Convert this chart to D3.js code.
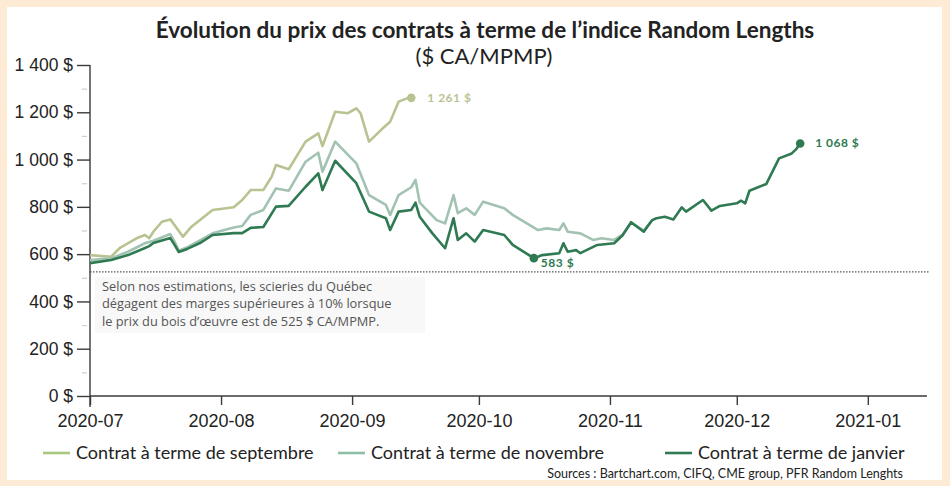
<!DOCTYPE html>
<html>
<head>
<meta charset="utf-8">
<script src="https://cdn.jsdelivr.net/npm/d3@7"></script>
<style>
  body { margin: 0; background: #fdebd6; }
  svg { display: block; font-family: Lato, 'Open Sans', sans-serif; }
  .axis text { font-size: 17.5px; fill: #222; }
  .axis.x text { font-size: 18px; }
  .axis path, .axis line { stroke: #3a3a3a; stroke-width: 1.4; }
  .minor line { stroke: #cfcfcf; stroke-width: 1.2; }
  .serie { fill: none; stroke-width: 2.6; stroke-linejoin: round; }
  .legend text { font-size: 18px; fill: #222; }
</style>
</head>
<body>
<div id="chart"></div>
<script>
var chartTitle = 'Évolution du prix des contrats à terme de l’indice Random Lengths'
var chartSubtitle = '($ CA/MPMP)'
var sourceText = 'Sources : Bartchart.com, CIFQ, CME group, PFR Random Lenghts'
var noteLines = ['Selon nos estimations, les scieries du Québec',
                 'dégagent des marges supérieures à 10% lorsque',
                 'le prix du bois d’œuvre est de 525 $ CA/MPMP.']

var seriesNames = ['Contrat à terme de septembre', 'Contrat à terme de novembre', 'Contrat à terme de janvier']
var yTicks = [0, 200, 400, 600, 800, 1000, 1200, 1400]
var xTicks = ['2020-07-01', '2020-08-01', '2020-09-01', '2020-10-01', '2020-11-01', '2020-12-01', '2021-01-01']
var seuil = 525

// contrat de septembre
var septDates = ['2020-07-01','2020-07-06','2020-07-08','2020-07-12','2020-07-14','2020-07-15','2020-07-16','2020-07-18',
  '2020-07-20','2020-07-23','2020-07-25','2020-07-30','2020-08-04','2020-08-06','2020-08-08','2020-08-11','2020-08-12',
  '2020-08-13','2020-08-14','2020-08-17','2020-08-21','2020-08-24','2020-08-25','2020-08-28','2020-08-31','2020-09-02',
  '2020-09-03','2020-09-05','2020-09-08','2020-09-10','2020-09-12','2020-09-14','2020-09-15']
var septValues = [596,589,625,667,681,667,695,737,
  747,674,716,787,798,829,871,871,900,
  928,977,959,1076,1111,1057,1202,1196,1217,
  1196,1076,1128,1160,1245,1259,1261]

// contrat de novembre
var novDates = ['2020-07-01','2020-07-06','2020-07-10','2020-07-14','2020-07-16','2020-07-20','2020-07-21','2020-07-22',
  '2020-07-24','2020-07-30','2020-08-04','2020-08-06','2020-08-08','2020-08-11','2020-08-14','2020-08-17','2020-08-21',
  '2020-08-24','2020-08-25','2020-08-28','2020-09-02','2020-09-05','2020-09-09','2020-09-10','2020-09-12','2020-09-15',
  '2020-09-16','2020-09-17','2020-09-21','2020-09-23','2020-09-25','2020-09-26','2020-09-28','2020-09-30','2020-10-02',
  '2020-10-07','2020-10-09','2020-10-15','2020-10-17','2020-10-20','2020-10-21','2020-10-22','2020-10-25','2020-10-28',
  '2020-10-30','2020-11-02','2020-11-04','2020-11-06','2020-11-09','2020-11-11']
var novValues = [575,582,610,646,657,685,653,615,
  629,688,713,719,766,787,878,868,991,
  1029,949,1076,984,850,808,766,850,883,
  914,818,744,730,850,773,794,766,822,
  794,766,702,709,702,730,695,688,660,
  667,660,683,733,700,744]

// contrat de janvier
var janDates = ['2020-07-01','2020-07-06','2020-07-10','2020-07-14','2020-07-15','2020-07-16','2020-07-20','2020-07-21',
  '2020-07-22','2020-07-24','2020-07-27','2020-07-30','2020-08-04','2020-08-06','2020-08-08','2020-08-11','2020-08-14',
  '2020-08-17','2020-08-21','2020-08-24','2020-08-25','2020-08-28','2020-09-02','2020-09-05','2020-09-09','2020-09-10',
  '2020-09-12','2020-09-15','2020-09-16','2020-09-17','2020-09-20','2020-09-23','2020-09-25','2020-09-26','2020-09-28',
  '2020-09-30','2020-10-02','2020-10-07','2020-10-09','2020-10-14','2020-10-16','2020-10-20','2020-10-21','2020-10-22',
  '2020-10-24','2020-10-25','2020-10-29','2020-11-02','2020-11-04','2020-11-06','2020-11-09','2020-11-11','2020-11-12',
  '2020-11-14','2020-11-16','2020-11-18','2020-11-19','2020-11-23','2020-11-25','2020-11-27','2020-12-01','2020-12-02',
  '2020-12-03','2020-12-04','2020-12-08','2020-12-11','2020-12-14','2020-12-15','2020-12-16']
var janValues = [562,575,596,626,634,647,668,639,
  609,622,647,681,689,689,711,715,801,
  804,885,942,871,995,900,780,752,702,
  780,787,818,758,688,625,752,660,688,
  653,702,681,639,583,596,604,646,610,
  617,604,639,646,680,735,695,744,752,
  758,747,798,780,829,784,804,815,826,
  815,868,897,1005,1026,1043,1068]

// points annotés (date de la valeur affichée)
var labelDates = ['2020-09-15', '2020-10-14', '2020-12-16']

var colors = ['#b7c492', '#a2c2b2', '#2f7a52']
var legendColors = ['#a9c67e', '#8dbfa6', '#2f7a52']

var parseDate = d3.timeParse('%Y-%m-%d')
var fmtNum = function(v) { return d3.format(',')(v).replace(',', ' ') + ' $' }

var W = 950, H = 486

var svg = d3.select('#chart').append('svg')
    .attr('width', W).attr('height', H)

// fond
svg.append('rect').attr('width', W).attr('height', H).attr('fill', '#fdebd6')
svg.append('rect').attr('x', 7).attr('y', 7).attr('width', 935).attr('height', 473).attr('fill', '#ffffff')

var xScale = d3.scaleTime()
    .domain([parseDate('2020-07-01'), parseDate('2021-01-15')])
    .range([90, 927])
var yScale = d3.scaleLinear()
    .domain([0, 1400])
    .range([396, 65])

// titre
svg.append('text')
    .attr('x', 485).attr('y', 38)
    .attr('text-anchor', 'middle')
    .style('font-size', '22.5px').style('font-weight', 'bold').style('fill', '#222')
    .text(chartTitle)
svg.append('text')
    .attr('x', 484).attr('y', 64)
    .attr('text-anchor', 'middle')
    .style('font-size', '22px').style('fill', '#222')
    .text(chartSubtitle)

// note
var note = svg.append('g')
note.append('rect')
    .attr('x', 95).attr('y', 277).attr('width', 330).attr('height', 56)
    .attr('fill', '#f8f8f8')
note.selectAll('text')
    .data(noteLines)
    .enter()
    .append('text')
    .attr('x', 102)
    .attr('y', function(d, i) { return 291 + i * 17.3 })
    .style('font-family', "'Open Sans', sans-serif")
    .style('font-size', '12.8px').style('fill', '#555')
    .text(function(d) { return d })

// ligne de seuil
svg.append('line')
    .attr('x1', xScale(parseDate('2020-07-01'))).attr('x2', 930)
    .attr('y1', yScale(seuil)).attr('y2', yScale(seuil))
    .attr('stroke', '#555').attr('stroke-width', 1.2)
    .attr('stroke-dasharray', '1.5,1.5')

// petites graduations
svg.append('g')
    .attr('class', 'minor')
    .attr('transform', 'translate(90,0)')
    .call(d3.axisLeft(yScale).tickValues(d3.range(100, 1400, 200)).tickSize(0).tickPadding(0).tickFormat(''))
    .call(function(g) { g.select('.domain').remove() })
    .selectAll('.tick line').attr('x1', -8).attr('x2', -3)

// axe y
var yAxis = d3.axisLeft(yScale).tickValues(yTicks).tickSize(13).tickPadding(4).tickFormat(fmtNum)
svg.append('g')
    .attr('class', 'axis y')
    .attr('transform', 'translate(90,0)')
    .call(yAxis)
    .call(function(g) { g.select('.domain').attr('d', 'M0,65V407') })

// axe x
var xAxis = d3.axisBottom(xScale)
    .tickValues(xTicks.map(parseDate))
    .tickSize(9).tickPadding(9)
    .tickFormat(d3.timeFormat('%Y-%m'))
svg.append('g')
    .attr('class', 'axis x')
    .attr('transform', 'translate(0,396)')
    .call(xAxis)
    .call(function(g) { g.select('.domain').attr('d', 'M90,0H927') })

// séries
var allSeries = [
  {dates: septDates, values: septValues},
  {dates: novDates, values: novValues},
  {dates: janDates, values: janValues}
]

var line = d3.line()
    .x(function(d) { return xScale(d.date) })
    .y(function(d) { return yScale(d.value) })

allSeries.forEach(function(s, i) {
  s.points = s.dates.map(function(d, j) { return {date: parseDate(d), key: d, value: s.values[j]} })
  svg.append('path')
      .datum(s.points)
      .attr('class', 'serie')
      .attr('stroke', colors[i])
      .attr('d', line)
})

// points et étiquettes
function findPoint(points, key) {
  return points.filter(function(p) { return p.key == key })[0]
}
var marks = [
  {p: findPoint(allSeries[0].points, labelDates[0]), color: colors[0], dx: 16, dy: 4},
  {p: findPoint(allSeries[2].points, labelDates[1]), color: colors[2], dx: 7, dy: 9},
  {p: findPoint(allSeries[2].points, labelDates[2]), color: colors[2], dx: 15, dy: 4}
]
marks.forEach(function(m) {
  svg.append('circle')
      .attr('cx', xScale(m.p.date)).attr('cy', yScale(m.p.value))
      .attr('r', 4.3).attr('fill', m.color)
  svg.append('text')
      .attr('x', xScale(m.p.date) + m.dx).attr('y', yScale(m.p.value) + m.dy)
      .style('font-size', '12px').style('font-weight', 'bold').style('fill', m.color)
      .style('letter-spacing', '0.5px')
      .text(fmtNum(m.p.value))
})

// légende
var legendX = [43, 338, 665]
var legend = svg.selectAll('.legend')
    .data(seriesNames)
    .enter()
    .append('g')
    .attr('class', 'legend')
    .attr('transform', function(d, i) { return 'translate(' + legendX[i] + ',453)' })
legend.append('line')
    .attr('x1', 0).attr('x2', 27)
    .attr('stroke', function(d, i) { return legendColors[i] })
    .attr('stroke-width', 2.6)
legend.append('text')
    .attr('x', 33).attr('dy', '0.35em')
    .text(function(d) { return d })

// sources
svg.append('text')
    .attr('x', 903).attr('y', 478)
    .attr('text-anchor', 'end')
    .style('font-size', '12.5px').style('fill', '#222')
    .text(sourceText)
</script>
</body>
</html>
